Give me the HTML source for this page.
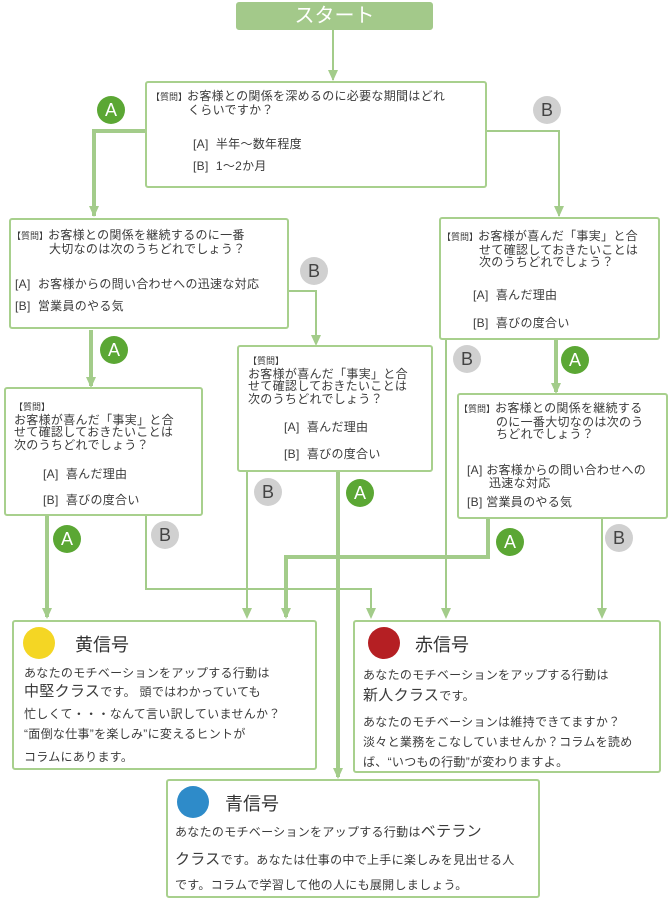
<!DOCTYPE html>
<html><head><meta charset="utf-8"><style>
body{margin:0;width:670px;height:900px;background:#fff;position:relative;overflow:hidden;font-family:"Liberation Sans","Noto Sans CJK JP",sans-serif;color:#3a3a3a}
.b{position:absolute;border:2px solid #a8d08d;border-radius:3px;box-sizing:border-box;background:#fff}
.t{position:absolute;font-size:12px;line-height:12.5px;white-space:nowrap;letter-spacing:0.3px}
.s{font-size:9px;letter-spacing:0}
.c{position:absolute;width:28px;height:28px;border-radius:50%;text-align:center;line-height:28px;font-size:18px;font-weight:300}
.A{background:#5ba734;color:#fff}
.Bc{background:#d0d0d0;color:#444}
.d{position:absolute;border-radius:50%}
.h{position:absolute;font-size:18px;line-height:20px;color:#333}
</style></head><body>
<svg width="670" height="900" style="position:absolute;left:0;top:0">
<g stroke="#a3cc8a" fill="none">
<path d="M333 30 V80" stroke-width="2"/>
<path d="M145 131 H94 V216" stroke-width="4"/>
<path d="M487 131 H559 V216" stroke-width="2"/>
<path d="M289 291 H316 V344" stroke-width="2"/>
<path d="M91 330 V386" stroke-width="4"/>
<path d="M556 340 V392" stroke-width="4"/>
<path d="M446 340 V617" stroke-width="2"/>
<path d="M247 472 V617" stroke-width="2"/>
<path d="M338 472 V777" stroke-width="4"/>
<path d="M47 516 V617" stroke-width="4"/>
<path d="M146 516 V589 H371 V617" stroke-width="2"/>
<path d="M488 519 V557 H286 V617" stroke-width="4"/>
<path d="M602 519 V617" stroke-width="2"/>
</g>
<g fill="#a3cc8a">
<path d="M328 70 L338 70 L333 81Z"/><path d="M89 206 L99 206 L94 217Z"/><path d="M554 206 L564 206 L559 217Z"/>
<path d="M311 335 L321 335 L316 346Z"/><path d="M86 377 L96 377 L91 388Z"/><path d="M551 383 L561 383 L556 394Z"/>
<path d="M441 608 L451 608 L446 619Z"/><path d="M242 608 L252 608 L247 619Z"/><path d="M333 768 L343 768 L338 779Z"/>
<path d="M42 608 L52 608 L47 619Z"/><path d="M366 608 L376 608 L371 619Z"/><path d="M281 608 L291 608 L286 619Z"/><path d="M597 608 L607 608 L602 619Z"/>
</g>
</svg>
<div class="b" style="left:236px;top:2px;width:197px;height:28px;background:#a3c98a;border-color:#a3c98a;color:#fff;font-size:20px;text-align:center;line-height:24px">スタート</div>

<div class="b" style="left:145px;top:81px;width:342px;height:107px"></div>
<div class="t" style="left:151px;top:90px"><span class="s">【質問】</span>お客様との関係を深めるのに必要な期間はどれ<br><span style="padding-left:37px">くらいですか？</span></div>
<div class="t" style="left:193px;top:138px">[A]&nbsp; 半年～数年程度</div>
<div class="t" style="left:193px;top:160px">[B]&nbsp; 1～2か月</div>

<div class="b" style="left:9px;top:218px;width:280px;height:111px"></div>
<div class="t" style="left:12px;top:229px"><span class="s">【質問】</span>お客様との関係を継続するのに一番<br><span style="padding-left:37px">大切なのは次のうちどれでしょう？</span></div>
<div class="t" style="left:15px;top:278px">[A]&nbsp; お客様からの問い合わせへの迅速な対応</div>
<div class="t" style="left:15px;top:300px">[B]&nbsp; 営業員のやる気</div>

<div class="b" style="left:439px;top:217px;width:221px;height:123px"></div>
<div class="t" style="left:442px;top:230px"><span class="s">【質問】</span>お客様が喜んだ「事実」と合<br><span style="padding-left:37px">せて確認しておきたいことは</span><br><span style="padding-left:37px">次のうちどれでしょう？</span></div>
<div class="t" style="left:473px;top:289px">[A]&nbsp; 喜んだ理由</div>
<div class="t" style="left:473px;top:317px">[B]&nbsp; 喜びの度合い</div>

<div class="b" style="left:4px;top:387px;width:199px;height:129px"></div>
<div class="t" style="left:14px;top:400px"><span class="s">【質問】</span><br>お客様が喜んだ「事実」と合<br>せて確認しておきたいことは<br>次のうちどれでしょう？</div>
<div class="t" style="left:43px;top:468px">[A]&nbsp; 喜んだ理由</div>
<div class="t" style="left:43px;top:494px">[B]&nbsp; 喜びの度合い</div>

<div class="b" style="left:237px;top:345px;width:196px;height:127px"></div>
<div class="t" style="left:248px;top:354px"><span class="s">【質問】</span><br>お客様が喜んだ「事実」と合<br>せて確認しておきたいことは<br>次のうちどれでしょう？</div>
<div class="t" style="left:284px;top:421px">[A]&nbsp; 喜んだ理由</div>
<div class="t" style="left:284px;top:448px">[B]&nbsp; 喜びの度合い</div>

<div class="b" style="left:457px;top:393px;width:211px;height:126px"></div>
<div class="t" style="left:459px;top:402px"><span class="s">【質問】</span>お客様との関係を継続する<br><span style="padding-left:37px">のに一番大切なのは次のう</span><br><span style="padding-left:37px">ちどれでしょう？</span></div>
<div class="t" style="left:467px;top:464px">[A] お客様からの問い合わせへの<br><span style="padding-left:22px">迅速な対応</span></div>
<div class="t" style="left:467px;top:496px">[B] 営業員のやる気</div>

<div class="c A" style="left:97px;top:96px">A</div>
<div class="c Bc" style="left:533px;top:96px">B</div>
<div class="c Bc" style="left:300px;top:257px">B</div>
<div class="c A" style="left:100px;top:336px">A</div>
<div class="c Bc" style="left:453px;top:345px">B</div>
<div class="c A" style="left:561px;top:346px">A</div>
<div class="c Bc" style="left:254px;top:478px">B</div>
<div class="c A" style="left:346px;top:479px">A</div>
<div class="c A" style="left:53px;top:525px">A</div>
<div class="c Bc" style="left:151px;top:521px">B</div>
<div class="c A" style="left:496px;top:528px">A</div>
<div class="c Bc" style="left:605px;top:524px">B</div>

<div class="b" style="left:12px;top:620px;width:305px;height:150px"></div>
<div class="d" style="left:23px;top:627px;width:32px;height:32px;background:#f4d624"></div>
<div class="h" style="left:75px;top:635px">黄信号</div>
<div class="t" style="left:24px;top:667px">あなたのモチベーションをアップする行動は</div>
<div class="t" style="left:24px;top:686px"><span style="font-size:15px">中堅クラス</span>です。 頭ではわかっていても</div>
<div class="t" style="left:24px;top:708px">忙しくて・・・なんて言い訳していませんか？</div>
<div class="t" style="left:24px;top:728px">“面倒な仕事”を楽しみ”に変えるヒントが</div>
<div class="t" style="left:24px;top:751px">コラムにあります。</div>

<div class="b" style="left:353px;top:620px;width:308px;height:153px"></div>
<div class="d" style="left:368px;top:627px;width:32px;height:32px;background:#b51f23"></div>
<div class="h" style="left:415px;top:635px">赤信号</div>
<div class="t" style="left:363px;top:669px">あなたのモチベーションをアップする行動は</div>
<div class="t" style="left:363px;top:690px"><span style="font-size:15px">新人クラス</span>です。</div>
<div class="t" style="left:363px;top:716px">あなたのモチベーションは維持できてますか？</div>
<div class="t" style="left:363px;top:736px">淡々と業務をこなしていませんか？コラムを読め</div>
<div class="t" style="left:363px;top:756px">ば、“いつもの行動”が変わりますよ。</div>

<div class="b" style="left:166px;top:779px;width:374px;height:119px"></div>
<div class="d" style="left:177px;top:786px;width:32px;height:32px;background:#2e8bc9"></div>
<div class="h" style="left:225px;top:794px">青信号</div>
<div class="t" style="left:175px;top:826px">あなたのモチベーションをアップする行動は<span style="font-size:15px">ベテラン</span></div>
<div class="t" style="left:175px;top:854px"><span style="font-size:15px">クラス</span>です。あなたは仕事の中で上手に楽しみを見出せる人</div>
<div class="t" style="left:175px;top:879px">です。コラムで学習して他の人にも展開しましょう。</div>
</body></html>
